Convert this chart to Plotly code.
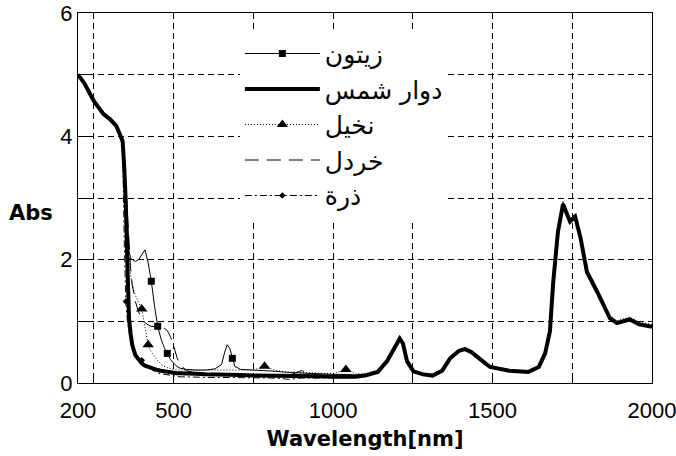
import plotly.graph_objects as go

# ---------------- data ----------------
wl_vis = [200, 220, 250, 280, 300, 320, 330, 340, 345, 350, 355, 360, 365, 370, 380, 390,
          400, 410, 420, 430, 440, 450, 460, 470, 480, 490, 500, 510, 520, 540, 570, 600,
          630, 650, 660, 668, 676, 684, 692, 710, 750, 785, 820, 860, 900, 950, 1000, 1040, 1070]
wl_nir = [1100, 1140, 1170, 1190, 1209, 1219, 1232, 1252, 1282, 1312, 1342, 1367, 1394, 1414,
          1434, 1458, 1492, 1552, 1612, 1645, 1665, 1680, 1690, 1705, 1721, 1743, 1759, 1776,
          1796, 1828, 1868, 1890, 1930, 1960, 2000]

olive_vis = [5.00, 4.88, 4.58, 4.38, 4.30, 4.19, 4.08, 3.95, 3.60, 3.10, 2.60, 2.15, 2.02, 2.00, 1.97, 2.00,
             2.08, 2.16, 1.95, 1.65, 1.25, 0.92, 0.72, 0.58, 0.48, 0.38, 0.32, 0.27, 0.24, 0.22, 0.21, 0.21,
             0.23, 0.30, 0.50, 0.62, 0.56, 0.40, 0.27, 0.22, 0.21, 0.20, 0.19, 0.17, 0.16, 0.15, 0.14, 0.14, 0.13]
olive_nir = [0.14, 0.20, 0.38, 0.58, 0.74, 0.66, 0.36, 0.20, 0.15, 0.13, 0.22, 0.42, 0.53, 0.57,
             0.52, 0.42, 0.27, 0.21, 0.19, 0.27, 0.50, 0.86, 1.65, 2.48, 2.93, 2.64, 2.72, 2.37,
             1.83, 1.51, 1.07, 0.99, 1.05, 0.97, 0.93]

sunflower_vis = [5.00, 4.86, 4.57, 4.36, 4.28, 4.17, 4.05, 3.92, 3.50, 2.90, 1.90, 1.05, 0.80, 0.62, 0.45, 0.37,
                 0.32, 0.28, 0.26, 0.24, 0.22, 0.21, 0.20, 0.19, 0.18, 0.17, 0.17, 0.16, 0.16, 0.15, 0.15, 0.14,
                 0.14, 0.14, 0.14, 0.14, 0.14, 0.13, 0.13, 0.13, 0.12, 0.12, 0.12, 0.11, 0.11, 0.11, 0.10, 0.10, 0.10]
sunflower_nir = [0.12, 0.18, 0.36, 0.56, 0.72, 0.64, 0.35, 0.19, 0.14, 0.12, 0.20, 0.40, 0.52, 0.55,
                 0.50, 0.40, 0.26, 0.20, 0.18, 0.26, 0.48, 0.84, 1.62, 2.45, 2.90, 2.62, 2.70, 2.35,
                 1.80, 1.48, 1.05, 0.97, 1.03, 0.95, 0.91]

palm_vis = [5.00, 4.87, 4.57, 4.36, 4.29, 4.18, 4.06, 3.93, 3.55, 3.00, 2.45, 2.00, 1.75, 1.58, 1.42, 1.30,
            1.20, 0.90, 0.62, 0.50, 0.42, 0.36, 0.31, 0.27, 0.25, 0.23, 0.22, 0.21, 0.21, 0.20, 0.20, 0.20,
            0.20, 0.20, 0.20, 0.20, 0.20, 0.20, 0.20, 0.20, 0.21, 0.27, 0.20, 0.18, 0.17, 0.16, 0.15, 0.22, 0.15]
palm_nir = [0.15, 0.21, 0.39, 0.59, 0.75, 0.67, 0.37, 0.21, 0.16, 0.14, 0.23, 0.43, 0.54, 0.58,
            0.53, 0.43, 0.28, 0.22, 0.20, 0.28, 0.51, 0.88, 1.68, 2.50, 2.95, 2.66, 2.74, 2.39,
            1.85, 1.53, 1.09, 1.01, 1.07, 0.99, 0.95]

mustard_vis = [5.00, 4.88, 4.59, 4.38, 4.30, 4.19, 4.08, 3.95, 3.65, 3.20, 2.70, 2.20, 1.85, 1.60, 1.32, 1.15,
               1.05, 0.98, 0.94, 0.92, 0.91, 0.91, 0.90, 0.89, 0.85, 0.75, 0.60, 0.42, 0.30, 0.20, 0.16, 0.15,
               0.14, 0.14, 0.14, 0.14, 0.14, 0.14, 0.14, 0.14, 0.14, 0.13, 0.13, 0.12, 0.20, 0.13, 0.12, 0.12, 0.11]
mustard_nir = [0.12, 0.19, 0.37, 0.57, 0.73, 0.65, 0.35, 0.19, 0.14, 0.12, 0.21, 0.41, 0.52, 0.56,
               0.51, 0.41, 0.26, 0.20, 0.18, 0.26, 0.49, 0.85, 1.64, 2.47, 2.92, 2.63, 2.71, 2.36,
               1.82, 1.50, 1.06, 0.98, 1.04, 0.96, 0.92]

corn_vis = [5.00, 4.87, 4.58, 4.37, 4.28, 4.17, 4.05, 3.85, 2.30, 1.32, 1.00, 0.80, 0.66, 0.57, 0.47, 0.41,
            0.37, 0.32, 0.27, 0.22, 0.19, 0.16, 0.15, 0.14, 0.13, 0.12, 0.11, 0.11, 0.10, 0.10, 0.09, 0.09,
            0.09, 0.09, 0.09, 0.09, 0.09, 0.09, 0.09, 0.08, 0.08, 0.08, 0.08, 0.06, 0.08, 0.08, 0.08, 0.09, 0.09]
corn_nir = [0.11, 0.17, 0.35, 0.55, 0.71, 0.63, 0.34, 0.18, 0.13, 0.11, 0.19, 0.39, 0.51, 0.54,
            0.49, 0.39, 0.25, 0.19, 0.17, 0.25, 0.47, 0.83, 1.60, 2.43, 2.88, 2.60, 2.68, 2.33,
            1.78, 1.46, 1.03, 0.96, 1.02, 0.94, 0.90]

# wavelengths where the series carry a marker
olive_marks = [430, 450, 480, 684]
palm_marks = [400, 420, 785, 1040]
corn_marks = [350, 400]

names = ["زيتون", "دوار شمس", "نخيل", "خردل", "ذرة"]
x_ticks = [200, 500, 1000, 1500, 2000]
y_ticks = [0, 2, 4, 6]

# ---------------- figure ----------------
wl = wl_vis + wl_nir
series = {
    "olive": olive_vis + olive_nir,
    "sunflower": sunflower_vis + sunflower_nir,
    "palm": palm_vis + palm_nir,
    "mustard": mustard_vis + mustard_nir,
    "corn": corn_vis + corn_nir,
}

styles = {
    "olive": dict(line=dict(color="black", width=1), marker=dict(symbol="square", size=7, color="black"), marks=olive_marks),
    "sunflower": dict(line=dict(color="black", width=4), marker=None, marks=None),
    "palm": dict(line=dict(color="black", width=1, dash="1px,2px"), marker=dict(symbol="triangle-up", size=10, color="black"), marks=palm_marks),
    "mustard": dict(line=dict(color="black", width=1, dash="14px,8px"), marker=None, marks=None),
    "corn": dict(line=dict(color="black", width=1, dash="7px,3px,2px,3px"), marker=dict(symbol="diamond", size=5, color="black"), marks=corn_marks),
}
order = ["olive", "sunflower", "palm", "mustard", "corn"]

fig = go.Figure()

# legend entries (legend-only proxies, in legend order)
for key, name in zip(order, names):
    st = styles[key]
    kw = dict(mode="lines+markers", marker=st["marker"]) if st["marker"] else dict(mode="lines")
    fig.add_trace(go.Scatter(x=[None], y=[None], name=name, line=st["line"],
                             legendgroup=key, showlegend=True, hoverinfo="skip", **kw))

# data curves: thick one first
for key in ["sunflower", "mustard", "corn", "palm", "olive"]:
    st = styles[key]
    fig.add_trace(go.Scatter(x=wl, y=series[key], mode="lines", line=st["line"],
                             legendgroup=key, showlegend=False))
    if st["marks"]:
        lookup = dict(zip(wl, series[key]))
        fig.add_trace(go.Scatter(x=st["marks"], y=[lookup[w] for w in st["marks"]],
                                 mode="markers", marker=st["marker"],
                                 legendgroup=key, showlegend=False))

axis_font = dict(family="Liberation Sans", size=22, color="black")
fig.update_layout(
    width=676, height=456,
    margin=dict(l=78, r=24, t=13, b=73),
    paper_bgcolor="white", plot_bgcolor="white",
    showlegend=True,
    legend=dict(x=0.282, y=0.952, xanchor="left", yanchor="top",
                bgcolor="white", borderwidth=0,
                font=dict(family="DejaVu Sans", size=25, color="black"),
                itemwidth=75, entrywidth=170, traceorder="grouped", tracegroupgap=0),
    xaxis=dict(range=[200, 2000], tickvals=x_ticks, ticktext=[str(v) for v in x_ticks],
               ticks="inside", ticklen=10, tickcolor="black", ticklabelstandoff=8,
               ticklabeloverflow="allow", automargin=False,
               showline=True, linecolor="black", linewidth=1, mirror=True,
               showgrid=False, zeroline=False, tickfont=axis_font,
               minor=dict(dtick=250, tick0=0, showgrid=True, gridcolor="black",
                          griddash="6px,4px", gridwidth=1, ticks="inside", ticklen=10, tickcolor="black"),
               title=dict(text="Wavelength[nm]", font=dict(family="DejaVu Sans", size=21, color="black", weight="bold"),
                          standoff=8)),
    yaxis=dict(range=[0, 6], tickvals=y_ticks, automargin=False,
               ticks="inside", ticklen=10, tickcolor="black",
               showline=True, linecolor="black", linewidth=1, mirror=True,
               showgrid=False, zeroline=False, tickfont=axis_font,
               minor=dict(dtick=1, tick0=0, showgrid=True, gridcolor="black",
                          griddash="6px,4px", gridwidth=1, ticks="inside", ticklen=10, tickcolor="black")),
    annotations=[dict(text="<b>Abs</b>", xref="paper", yref="paper", x=-0.082, y=0.459,
                      xanchor="center", yanchor="middle", showarrow=False,
                      font=dict(family="DejaVu Sans", size=21, color="black"))],
)

fig.write_html("out.html")
